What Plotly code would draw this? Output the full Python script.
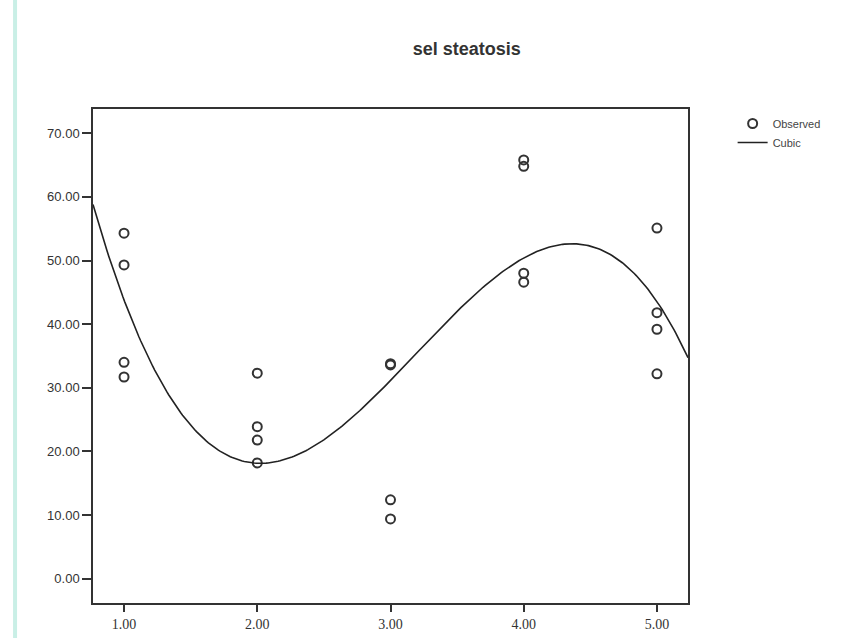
import numpy as np
import plotly.graph_objects as go

# Observed values per group (x = group code)
x_obs = [1, 1, 1, 1,
         2, 2, 2, 2,
         3, 3, 3, 3,
         4, 4, 4, 4,
         5, 5, 5, 5]
y_obs = [54.3, 49.3, 34.0, 31.7,
         32.3, 23.9, 21.8, 18.2,
         33.8, 33.6, 12.4, 9.4,
         65.8, 64.8, 48.0, 46.6,
         55.1, 41.8, 39.2, 32.2]

x_ticks = [1, 2, 3, 4, 5]
x_tick_text = ["1.00", "2.00", "3.00", "4.00", "5.00"]
y_ticks = [0, 10, 20, 30, 40, 50, 60, 70]
y_tick_text = ["0.00", "10.00", "20.00", "30.00", "40.00", "50.00", "60.00", "70.00"]

x_range = [0.767, 5.233]
y_range = [-3.8, 73.8]

# Cubic regression of the observed values
coef = np.polyfit(x_obs, y_obs, 3)
xs = np.linspace(x_range[0], x_range[1], 300)
ys = np.polyval(coef, xs)

fig = go.Figure()
fig.add_trace(go.Scatter(
    x=x_obs, y=y_obs, mode="markers", name="Observed",
    marker=dict(symbol="circle-open", size=9, color="#333333",
                line=dict(width=2, color="#333333")),
))
fig.add_trace(go.Scatter(
    x=xs, y=ys, mode="lines", name="Cubic",
    line=dict(color="#222222", width=1.6),
))

fig.update_layout(
    width=844, height=638,
    paper_bgcolor="white", plot_bgcolor="white",
    margin=dict(l=93, r=156, t=109, b=35),
    showlegend=True,
    legend=dict(x=1.075, y=1.0, xanchor="left", yanchor="top",
                font=dict(family="Liberation Sans", size=11, color="#444444"),
                tracegroupgap=0, itemwidth=30, bgcolor="rgba(0,0,0,0)"),
    title=dict(text="<b>sel steatosis</b>", x=0.553, xanchor="center",
               y=0.923, yanchor="middle",
               font=dict(family="Liberation Sans", size=18, color="#333333")),
    font=dict(family="Liberation Sans", color="#333333"),
)
fig.update_xaxes(
    range=x_range, tickvals=x_ticks, ticktext=x_tick_text, automargin=False,
    showgrid=False, zeroline=False, showline=True, linecolor="#333333",
    linewidth=1.5, mirror=True, ticks="outside", ticklen=7, tickwidth=1.5,
    tickcolor="#333333",
    tickfont=dict(family="Liberation Serif", size=14, color="#333333"),
)
fig.update_yaxes(
    range=y_range, tickvals=y_ticks, ticktext=y_tick_text, automargin=False,
    showgrid=False, zeroline=False, showline=True, linecolor="#333333",
    linewidth=1.5, mirror=True, ticks="outside", ticklen=9, tickwidth=1.5,
    tickcolor="#333333",
    tickfont=dict(family="Liberation Sans", size=13, color="#333333"),
)

# Thin teal rule along the left edge of the page
fig.add_shape(type="line", xref="paper", yref="paper",
              x0=-0.131, x1=-0.131, y0=-0.08, y1=1.23,
              line=dict(color="#c9efe6", width=4))

fig.write_html("out.html")
